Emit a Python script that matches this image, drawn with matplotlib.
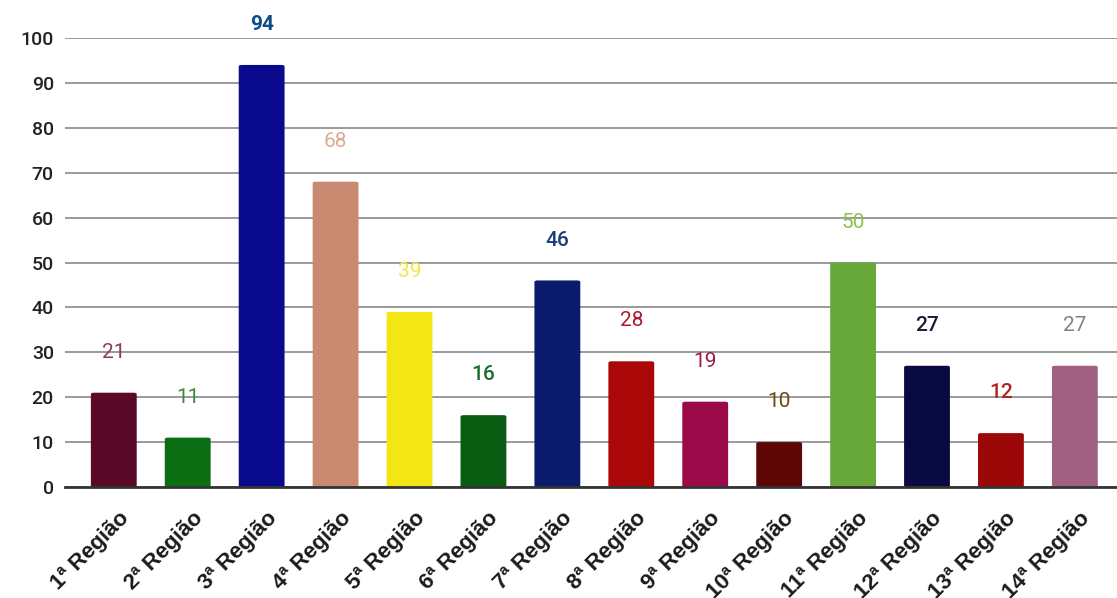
import matplotlib
matplotlib.use("Agg")
import matplotlib.pyplot as plt
from matplotlib.patches import FancyBboxPatch
from matplotlib.transforms import ScaledTranslation, blended_transform_factory

categories = ["1ª Região", "2ª Região", "3ª Região", "4ª Região", "5ª Região",
              "6ª Região", "7ª Região", "8ª Região", "9ª Região", "10ª Região",
              "11ª Região", "12ª Região", "13ª Região", "14ª Região"]
values = [21, 11, 94, 68, 39, 16, 46, 28, 19, 10, 50, 27, 12, 27]
y_ticks = [0, 10, 20, 30, 40, 50, 60, 70, 80, 90, 100]

bar_colors = ["#5a0a28", "#0b6e12", "#0a0a8c", "#c98a72", "#f2e614",
              "#0a5c12", "#0a1a6c", "#aa0808", "#9a0a48", "#5c0606",
              "#68a83a", "#0a0a42", "#9c0808", "#a06082"]
label_colors = ["#8a3a5c", "#3c8c3c", "#0c4c8c", "#d8ac94", "#f2e64c",
                "#1c6c2c", "#1c3c7c", "#ac1c2c", "#9c1c4c", "#6c4c0c",
                "#8cc252", "#1c1c3c", "#b02222", "#8a7a8a"]
label_weights = ["normal", "normal", "bold", "normal", "normal",
                 "medium", "medium", "normal", "normal", "normal",
                 "normal", "medium", "medium", "normal"]

fig = plt.figure(figsize=(11.17, 5.98), dpi=100)
ax = fig.add_axes([65 / 1117, 1 - 487 / 598, 1 - 65 / 1117, (487 - 38) / 598])

x = list(range(len(categories)))
width = 0.62
for xi, v, c in zip(x, values, bar_colors):
    ax.add_patch(FancyBboxPatch((xi - width / 2, 0), width, v,
                                boxstyle="round,pad=0,rounding_size=0.04",
                                mutation_aspect=8,
                                facecolor=c, edgecolor="none", zorder=3))

for xi, v, c, w in zip(x, values, label_colors, label_weights):
    ax.text(xi, v + 9.0, str(v), ha="center", va="center", color=c,
            fontsize=15, fontweight=w, family="Roboto", zorder=4,
            clip_on=False)

ax.set_xlim(-0.66, 13.57)
ax.set_ylim(0, 100)
ax.set_yticks(y_ticks)
ax.set_yticklabels([str(t) for t in y_ticks], fontsize=14,
                   family="Roboto", fontweight="medium", color="#222222")

# category labels, rotated and hung below each bar
ax.set_xticks(x)
ax.set_xticklabels([])
base = blended_transform_factory(ax.transData, ax.transAxes)
shift = ScaledTranslation(0.12, -0.28, fig.dpi_scale_trans)
for xi, name in zip(x, categories):
    ax.text(xi, 0, name, transform=base + shift, rotation=45,
            rotation_mode="anchor", ha="right", va="center",
            fontsize=16, family="Liberation Sans", fontweight="bold",
            color="#1a1a1a", clip_on=False)

ax.tick_params(axis="both", length=0)
ax.tick_params(axis="y", pad=8)
ax.yaxis.grid(True, color="#9a9a9a", linewidth=1.4, zorder=0)
ax.set_axisbelow(True)
for s in ["top", "right", "left"]:
    ax.spines[s].set_visible(False)
ax.spines["bottom"].set_color("#333333")
ax.spines["bottom"].set_linewidth(2)
ax.spines["bottom"].set_zorder(5)

fig.savefig("out.png", dpi=100, facecolor="white")
